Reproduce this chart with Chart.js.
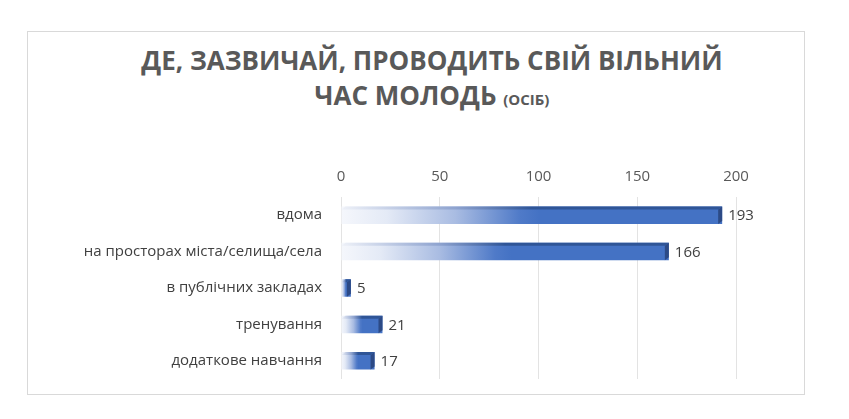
<!DOCTYPE html>
<html>
<head>
<meta charset="utf-8">
<script src="https://cdn.jsdelivr.net/npm/chart.js@4.4.1/dist/chart.umd.min.js"></script>
<style>
  body { margin: 0; background: #fff; }
  #wrap { position: relative; width: 849px; height: 419px; }
  #frame { position: absolute; left: 27px; top: 31px; width: 776px; height: 362px; border: 1px solid #d9d9d9; }
  #title {
    position: absolute; left: 0; top: 43px; width: 864px; text-align: center;
    font-family: 'Open Sans', sans-serif; font-weight: 700; font-size: 26px;
    line-height: 35px; color: #595959;
  }
  #title small { font-size: 15px; }
  canvas { position: absolute; left: 0; top: 0; }
</style>
</head>
<body>
<div id="wrap">
  <div id="frame"></div>
  <div id="title">ДЕ, ЗАЗВИЧАЙ, ПРОВОДИТЬ СВІЙ ВІЛЬНИЙ<br>ЧАС МОЛОДЬ <small>(ОСІБ)</small></div>
  <canvas id="freeTimeChart" width="849" height="419"></canvas>
</div>
<script>
// дані з діаграми
const categories = ['вдома', 'на просторах міста/селища/села', 'в публічних закладах', 'тренування', 'додаткове навчання']
const values = [193, 166, 5, 21, 17]
const xTicks = [0, 50, 100, 150, 200]

const BLUE = '#4472C4'
const DEPTH = 4

// градієнт від білого до синього вздовж кожного стовпчика
function barGradient(ctx) {
  const chart = ctx.chart
  if (!chart.chartArea) return BLUE
  const xs = chart.scales.x
  const x0 = xs.getPixelForValue(0)
  const x1 = xs.getPixelForValue(values[ctx.dataIndex])
  const g = chart.ctx.createLinearGradient(x0, 0, Math.max(x1, x0 + 1), 0)
  g.addColorStop(0, '#f5f7fc')
  g.addColorStop(0.12, '#e4eaf6')
  g.addColorStop(0.3, '#a9bce2')
  g.addColorStop(0.47, '#4f7ac8')
  g.addColorStop(0.52, BLUE)
  g.addColorStop(1, BLUE)
  return g
}

// верхня і бокова грані (3D) та підписи значень
const bar3d = {
  id: 'bar3d',
  afterDatasetsDraw(chart) {
    const c = chart.ctx
    const meta = chart.getDatasetMeta(0)
    meta.data.forEach((bar, i) => {
      const top = bar.y - bar.height / 2
      const bottom = bar.y + bar.height / 2
      const x = bar.x
      const base = bar.base
      c.save()
      // верхня грань
      const g = c.createLinearGradient(base, 0, Math.max(x, base + 1), 0)
      g.addColorStop(0, '#eef1f8')
      g.addColorStop(0.3, '#8ea3cf')
      g.addColorStop(0.5, '#2f5597')
      g.addColorStop(1, '#2f5597')
      c.fillStyle = g
      c.beginPath()
      c.moveTo(base, top + 3)
      c.lineTo(base + DEPTH, top)
      c.lineTo(x, top)
      c.lineTo(x - DEPTH, top + 3)
      c.closePath()
      c.fill()
      // бокова грань
      c.fillStyle = '#2c4a86'
      c.beginPath()
      c.moveTo(x - DEPTH, top + 3)
      c.lineTo(x, top)
      c.lineTo(x, bottom - 3)
      c.lineTo(x - DEPTH, bottom)
      c.closePath()
      c.fill()
      // підпис
      c.fillStyle = '#404040'
      c.font = '15px "Open Sans"'
      c.textAlign = 'left'
      c.textBaseline = 'middle'
      c.fillText(values[i], x + 6, bar.y + 1)
      c.restore()
    })
  },
}

new Chart(document.getElementById('freeTimeChart'), {
  type: 'bar',
  data: {
    labels: categories,
    datasets: [
      {
        data: values,
        backgroundColor: barGradient,
        borderWidth: 0,
        barPercentage: 0.6,
        categoryPercentage: 0.8,
      },
    ],
  },
  options: {
    indexAxis: 'y',
    responsive: false,
    animation: false,
    layout: { padding: { top: 160, bottom: 40, left: 0, right: 113 } },
    scales: {
      x: {
        position: 'top',
        min: 0,
        max: 200,
        afterBuildTicks: (scale) => {
          scale.ticks = xTicks.map((v) => ({ value: v }))
        },
        afterFit: (scale) => {
          scale.height = 37
        },
        grid: { color: '#e3e3e3', drawTicks: false },
        border: { display: false },
        ticks: { color: '#595959', font: { family: 'Open Sans', size: 15 }, padding: 11 },
      },
      y: {
        afterFit: (scale) => {
          scale.width = 341
        },
        grid: { display: false, drawTicks: false },
        border: { display: false },
        ticks: { color: '#404040', font: { family: 'Open Sans', size: 15 }, padding: 19 },
      },
    },
    plugins: {
      legend: { display: false },
      tooltip: { enabled: false },
    },
  },
  plugins: [bar3d],
})
</script>
</body>
</html>
